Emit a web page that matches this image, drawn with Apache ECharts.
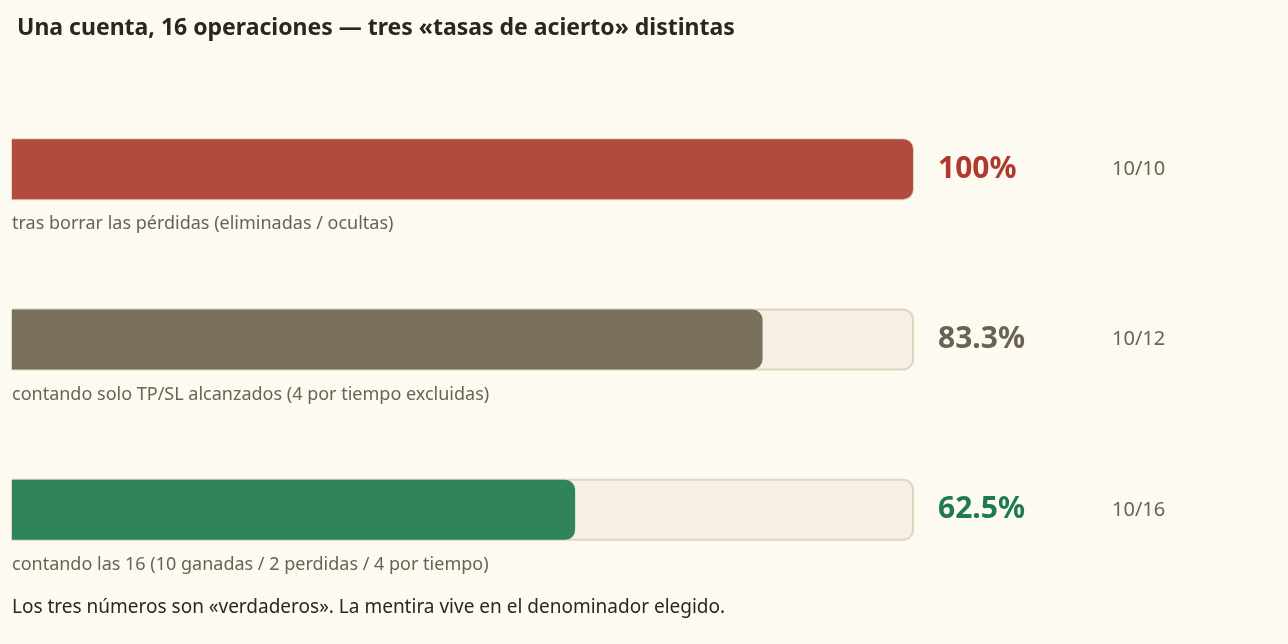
<!DOCTYPE html>
<html><head><meta charset="utf-8">
<script src="https://cdn.jsdelivr.net/npm/echarts@6/dist/echarts.min.js"></script>
<style>html,body{margin:0;padding:0;background:#fdfaf2}#c{width:1288px;height:644px}</style>
</head><body><div id="c"></div>
<script>
const categories = ['borrado','tpsl','todas'];
const rates = [100, 83.3, 62.5];
const rateLabels = ['100%', '83.3%', '62.5%'];
const fractions = ['10/10', '10/12', '10/16'];
const descriptions = [
  'tras borrar las pérdidas (eliminadas / ocultas)',
  'contando solo TP/SL alcanzados (4 por tiempo excluidas)',
  'contando las 16 (10 ganadas / 2 perdidas / 4 por tiempo)'
];
const barColors = ['#b34a3e', '#79705e', '#2f8459'];
const textColors = ['#b0392d', '#6b6252', '#1f7a4f'];

const chart = echarts.init(document.getElementById('c'));
const F = '"Noto Sans", "Open Sans", sans-serif';
chart.setOption({
  backgroundColor: '#fdfaf2',
  animation: false,
  title: {text: 'Una cuenta, 16 operaciones — tres «tasas de acierto» distintas', left: 12, top: 12,
    textStyle: {fontFamily: F, fontSize: 23, fontWeight: 'bold', color: '#2a2620'}},
  grid: {left: 12, right: 375, top: 84, bottom: 49},
  xAxis: {type: 'value', min: 0, max: 100, show: false},
  yAxis: {type: 'category', data: categories, inverse: true, show: false},
  series: [{
    type: 'bar', barWidth: 60,
    showBackground: true,
    backgroundStyle: {color: '#f6efe3', borderColor: '#e0d6c0', borderWidth: 2, borderRadius: [0, 10, 10, 0]},
    data: rates.map((v, i) => ({value: v, itemStyle: {color: barColors[i], borderRadius: [0, 10, 10, 0]}}))
  }]
});
const g = [];
rates.forEach((v, i) => {
  const p = chart.convertToPixel({gridIndex: 0}, [100, categories[i]]);
  const x0 = chart.convertToPixel({gridIndex: 0}, [0, categories[i]])[0];
  g.push({type: 'text', x: p[0] + 25, y: p[1], style: {text: rateLabels[i], fill: textColors[i], font: 'bold 30px ' + F, textVerticalAlign: 'middle'}});
  g.push({type: 'text', x: p[0] + 199, y: p[1], style: {text: fractions[i], fill: '#6b6252', font: '20px ' + F, textVerticalAlign: 'middle'}});
  g.push({type: 'text', x: x0, y: p[1] + 55, style: {text: descriptions[i], fill: '#6b6252', font: '18px ' + F, textVerticalAlign: 'middle'}});
});
g.push({type: 'text', left: 12, top: 598, style: {text: 'Los tres números son «verdaderos». La mentira vive en el denominador elegido.', fill: '#2a2620', font: '19px ' + F}});
chart.setOption({graphic: g});
</script></body></html>
